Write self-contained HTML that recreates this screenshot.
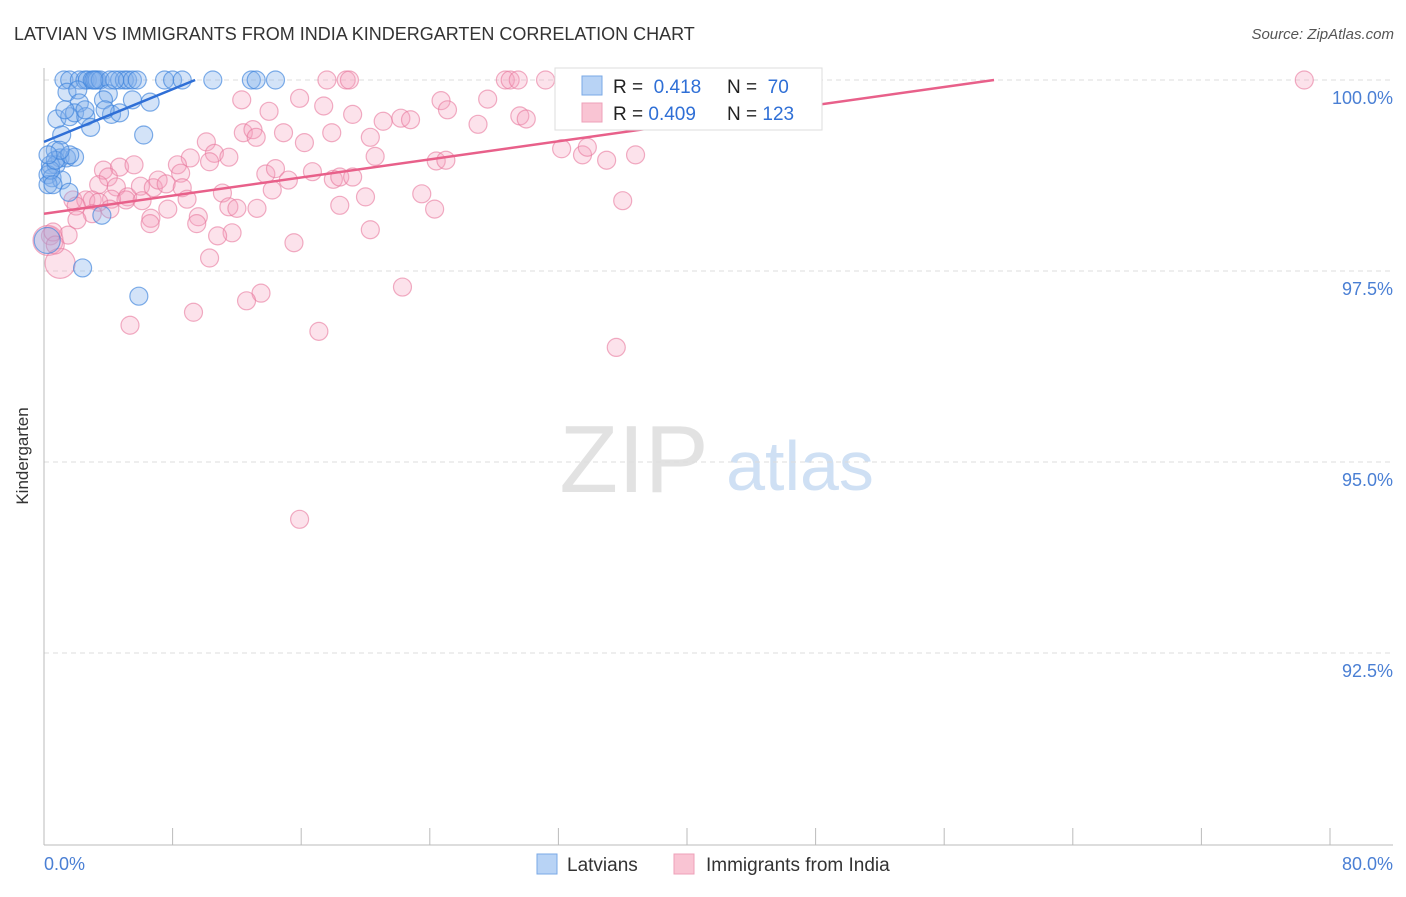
<!DOCTYPE html>
<html><head><meta charset="utf-8">
<style>
body{margin:0;background:#fff;font-family:"Liberation Sans",sans-serif;}
svg text{font-family:"Liberation Sans",sans-serif;}
</style></head>
<body>
<svg id="chart" width="1406" height="892" xmlns="http://www.w3.org/2000/svg">
<text x="14" y="40" font-size="18" fill="#333">LATVIAN VS IMMIGRANTS FROM INDIA KINDERGARTEN CORRELATION CHART</text>
<text x="1394" y="39" font-size="15" fill="#555" text-anchor="end" font-style="italic">Source: ZipAtlas.com</text>
<text x="634" y="492" font-size="96" fill="#e2e2e2" text-anchor="middle" font-family="Liberation Serif">ZIP</text>
<text x="800" y="490" font-size="70" fill="#cfe0f4" text-anchor="middle">atlas</text>
<g id="grid"></g><g id="axes"></g><g id="pts"></g><g id="lines"></g>
<text x="28" y="456" font-size="17" fill="#333" text-anchor="middle" transform="rotate(-90 28 456)">Kindergarten</text>
<g>
<rect x="555" y="68" width="267" height="62" fill="#fff" stroke="#ddd"/>
<rect x="582" y="76" width="20" height="19" fill="#b8d3f5" stroke="#7aa8e6"/>
<rect x="582" y="103" width="20" height="19" fill="#f9c4d3" stroke="#eea0b8"/>
<text x="613" y="93" font-size="19" fill="#222">R = <tspan fill="#2f6fd6">&#160;0.418</tspan><tspan x="727">N = </tspan><tspan fill="#2f6fd6">&#160;70</tspan></text>
<text x="613" y="120" font-size="19" fill="#222">R = <tspan fill="#2f6fd6">0.409</tspan><tspan x="727">N = </tspan><tspan fill="#2f6fd6">123</tspan></text>
</g>
<g>
<rect x="537" y="854" width="20" height="20" fill="#b8d3f5" stroke="#7aa8e6"/>
<text x="567" y="871" font-size="19" fill="#333">Latvians</text>
<rect x="674" y="854" width="20" height="20" fill="#f9c4d3" stroke="#eea0b8"/>
<text x="706" y="871" font-size="19" fill="#333">Immigrants from India</text>
</g>
</svg>
<script>
const blueX=[1.24,1.6,2.2,2.55,2.7,3.0,3.2,3.3,3.5,4.1,4.7,5.0,5.2,5.5,5.8,7.5,8.0,8.6,10.5,12.9,13.2,14.4,1.43,2.1,4.0,2.2,3.7,6.6,5.5,0.8,1.6,1.9,2.6,4.2,4.7,2.9,1.1,6.2,0.7,1.0,1.4,1.9,0.4,0.75,0.25,0.5,1.1,0.25,1.55,3.6,2.4,5.9,0.2,0.4,4.4,3.1,0.7,1.6,1.0,1.3,3.8,2.55,0.25,0.56];
const blueY=[100,100,100,100,100,100,100,100,100,100,100,100,100,100,100,100,100,100,100,100,100,100,99.84,99.87,99.82,99.7,99.74,99.71,99.74,99.49,99.52,99.57,99.52,99.55,99.57,99.38,99.28,99.28,99.08,98.98,98.98,98.99,98.89,98.89,98.76,98.72,98.69,98.63,98.53,98.23,97.54,97.17,97.9,98.82,100,100,98.95,99.02,99.08,99.61,99.61,99.61,99.02,98.63];
const pinkX=[17.6,18.8,19.0,28.7,29.0,29.5,31.2,78.4,12.3,15.9,14.0,17.4,19.2,24.7,25.1,27.6,29.6,30.0,21.1,22.2,22.8,27.0,10.1,12.4,13.0,13.2,14.9,16.2,17.9,20.3,10.6,9.1,11.5,10.3,20.6,24.4,25.0,32.2,33.5,33.8,35.0,36.8,3.7,4.7,5.6,4.0,8.3,8.5,13.8,14.4,15.2,16.7,18.0,18.4,19.2,3.4,4.5,5.2,6.0,6.8,7.1,7.6,8.6,8.9,11.1,4.2,5.1,6.1,1.8,2.6,3.0,3.4,2.0,3.0,4.1,7.7,9.6,11.5,12.0,13.25,14.2,18.4,20.0,23.5,24.3,6.65,6.6,9.5,11.7,10.8,15.55,20.3,2.05,1.5,0.4,0.25,1.0,10.3,13.5,12.6,5.35,9.3,17.1,22.3,35.6,36.0,15.9,0.56,0.7];
const pinkY=[100,100,100,100,100,100,100,100,99.74,99.76,99.59,99.66,99.55,99.73,99.61,99.75,99.53,99.49,99.46,99.5,99.48,99.42,99.19,99.31,99.35,99.25,99.31,99.18,99.31,99.25,99.04,98.98,98.99,98.93,99.0,98.94,98.95,99.1,99.02,99.12,98.95,99.02,98.82,98.86,98.89,98.73,98.89,98.78,98.77,98.84,98.69,98.8,98.7,98.73,98.73,98.63,98.6,98.47,98.61,98.59,98.69,98.64,98.59,98.44,98.52,98.44,98.43,98.42,98.43,98.43,98.43,98.4,98.35,98.25,98.31,98.31,98.21,98.34,98.32,98.32,98.56,98.36,98.47,98.51,98.31,98.19,98.12,98.12,98.0,97.96,97.87,98.04,98.17,97.97,97.96,97.9,97.6,97.67,97.21,97.11,96.79,96.96,96.71,97.29,96.5,98.42,94.25,98.01,97.84];
const pinkBig=[95,96];
const blueBig=[52];
const yTicks=[100,97.5,95,92.5];
const yTickLabels=["100.0%","97.5%","95.0%","92.5%"];
const xTicks=[0,8,16,24,32,40,48,56,64,72,80];
const blueTrendX=[0,9.4], blueTrendY=[99.19,100];
const pinkTrendX=[0,59.1], pinkTrendY=[98.25,100];
const X=v=>44+v*1286/80;
const Y=v=>80+(100-v)*191/2.5;
const NS="http://www.w3.org/2000/svg";
function mk(parent,tag,attrs){const e=document.createElementNS(NS,tag);for(const k in attrs)e.setAttribute(k,attrs[k]);document.getElementById(parent).appendChild(e);return e;}
yTicks.forEach((t,i)=>{
  const l=mk('grid','line',{x1:44,x2:1393,y1:Y(t),y2:Y(t),stroke:'#ddd','stroke-dasharray':'5,4'});
  
  
  const tx=mk('axes','text',{x:1393,y:Y(t)+24,'font-size':18,fill:'#4a7fd4','text-anchor':'end'});
  tx.textContent=yTickLabels[i];
  
  
});
const ax=mk('axes','line',{x1:44,x2:44,y1:68,y2:845,stroke:'#bbb'});


const bx=mk('axes','line',{x1:44,x2:1393,y1:845,y2:845,stroke:'#bbb'});


xTicks.forEach(t=>{
  const l=mk('axes','line',{x1:X(t),x2:X(t),y1:828,y2:845,stroke:'#bbb'});
  
  
});
const xl0=mk('axes','text',{x:44,y:870,'font-size':18,fill:'#4a7fd4'});xl0.textContent='0.0%';


const xl1=mk('axes','text',{x:1393,y:870,'font-size':18,fill:'#4a7fd4','text-anchor':'end'});xl1.textContent='80.0%';


pinkX.forEach((v,i)=>{
  const c=mk('pts','circle',{cx:X(v),cy:Y(pinkY[i]),r:pinkBig.includes(i)?15:9,fill:'rgba(244,160,188,0.3)',stroke:'rgba(232,120,156,0.6)','stroke-width':1.2});
  
  
});
blueX.forEach((v,i)=>{
  const c=mk('pts','circle',{cx:X(v),cy:Y(blueY[i]),r:blueBig.includes(i)?13:9,fill:'rgba(130,175,235,0.35)',stroke:'rgba(60,130,220,0.65)','stroke-width':1.2});
  
  
});
const bl=mk('lines','line',{x1:X(blueTrendX[0]),y1:Y(blueTrendY[0]),x2:X(blueTrendX[1]),y2:Y(blueTrendY[1]),stroke:'#2f6fd6','stroke-width':2.5});


const pl=mk('lines','line',{x1:X(pinkTrendX[0]),y1:Y(pinkTrendY[0]),x2:X(pinkTrendX[1]),y2:Y(pinkTrendY[1]),stroke:'#e8608a','stroke-width':2.5});


</script>
</body></html>
